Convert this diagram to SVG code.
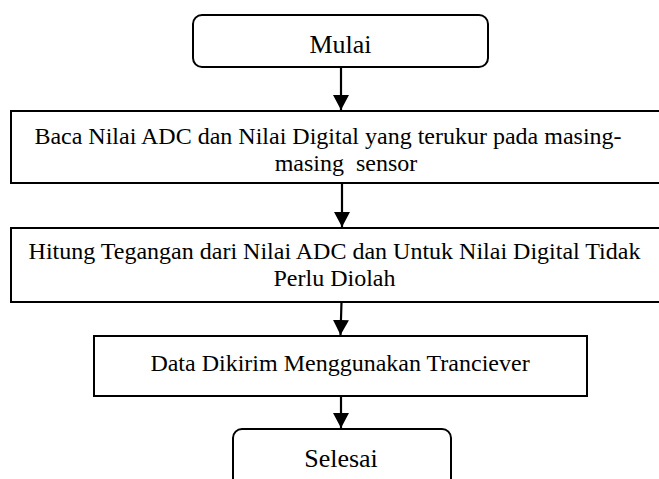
<svg xmlns="http://www.w3.org/2000/svg" width="659" height="479" viewBox="0 0 659 479" font-family="'Liberation Serif', 'Times New Roman', Times, 'DejaVu Serif', serif">
<style>
.box{fill:#fff;stroke:#000;stroke-width:2}
text{font-family:'Liberation Serif','Times New Roman',Times,'DejaVu Serif',serif;font-size:24px;fill:#000;text-anchor:middle}
.tt{font-size:26px}
.edge{stroke:#000;stroke-width:2.2;fill:none}
</style>
<defs>
<marker id="ah" viewBox="0 0 15 16" refX="15" refY="8" markerWidth="15" markerHeight="16" markerUnits="userSpaceOnUse" orient="auto">
<path d="M0,0 L15,8 L0,16 Z" fill="#000"/>
</marker>
</defs>
<rect width="659" height="479" fill="#fff"/>
<g id="connectors">
<line class="edge" x1="341" y1="67" x2="341" y2="110" marker-end="url(#ah)"/>
<line class="edge" x1="342" y1="183" x2="342" y2="227" marker-end="url(#ah)"/>
<line class="edge" x1="341.5" y1="302" x2="340.5" y2="335" marker-end="url(#ah)"/>
<line class="edge" x1="341" y1="396" x2="341" y2="428" marker-end="url(#ah)"/>
</g>
<g id="mulai">
<rect class="box" x="193" y="15" width="295" height="52" rx="9"/>
<text class="tt" x="340.5" y="53">Mulai</text>
</g>
<g id="baca">
<rect class="box" x="11" y="111" width="660" height="72"/>
<text x="328" y="144">Baca Nilai ADC dan Nilai Digital yang terukur pada masing-</text>
<text x="346" y="171" xml:space="preserve">masing  sensor</text>
</g>
<g id="hitung">
<rect class="box" x="11" y="228" width="660" height="74"/>
<text x="334.5" y="259">Hitung Tegangan dari Nilai ADC dan Untuk Nilai Digital Tidak</text>
<text x="334.5" y="286">Perlu Diolah</text>
</g>
<g id="kirim">
<rect class="box" x="94" y="336" width="493" height="60"/>
<text x="340" y="371">Data Dikirim Menggunakan Tranciever</text>
</g>
<g id="selesai">
<rect class="box" x="233" y="429" width="218" height="70" rx="9"/>
<text class="tt" x="341" y="467">Selesai</text>
</g>
</svg>
